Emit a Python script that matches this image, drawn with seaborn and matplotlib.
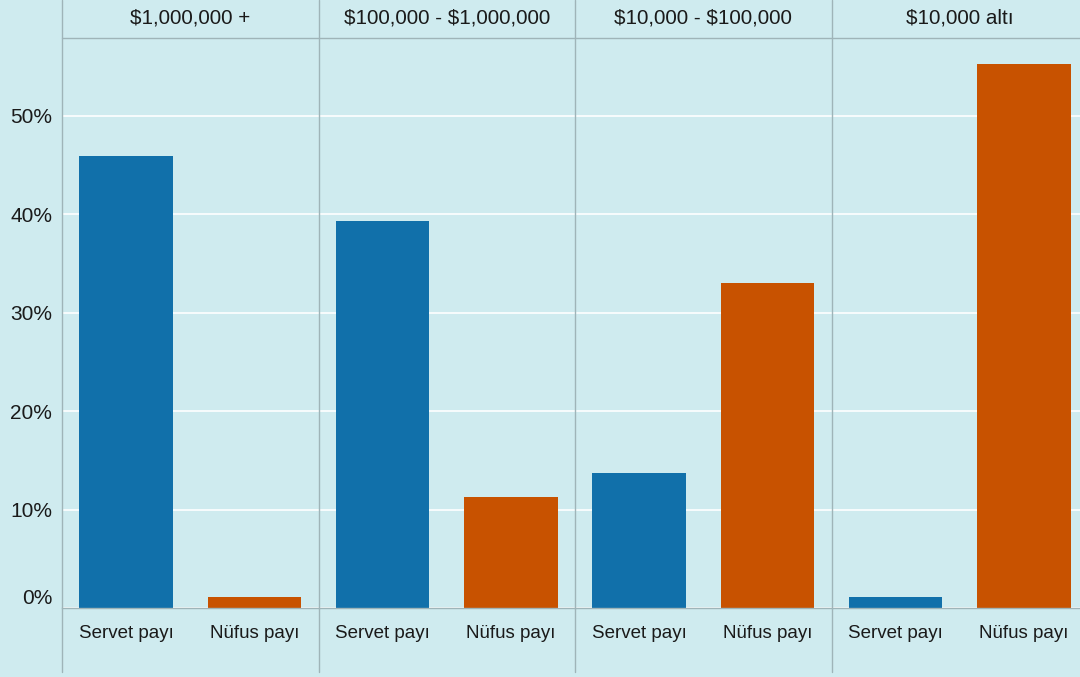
import matplotlib
matplotlib.use("Agg")
import matplotlib.pyplot as plt
from matplotlib.lines import Line2D
from matplotlib.ticker import PercentFormatter
import seaborn as sns
import pandas as pd

groups = ["$1,000,000 +", "$100,000 - $1,000,000", "$10,000 - $100,000", "$10,000 altı"]
measures = ["Servet payı", "Nüfus payı"]
servet = [45.9, 39.3, 13.7, 1.1]
nufus = [1.1, 11.3, 33.0, 55.3]

colors = {"Servet payı": "#1170aa", "Nüfus payı": "#c85200"}
bg = "#cfebef"
line_col = "#9fb4b8"

sns.set_theme(style="white")
plt.rcParams["font.family"] = ["Liberation Sans", "DejaVu Sans"]
plt.rcParams["text.parse_math"] = False

rows = []
for g, s, n in zip(groups, servet, nufus):
    rows.append({"grup": g, "olcu": "Servet payı", "pay": s})
    rows.append({"grup": g, "olcu": "Nüfus payı", "pay": n})
df = pd.DataFrame(rows)

fig = plt.figure(figsize=(10.8, 6.77), dpi=100, facecolor=bg)
W, H = 1080, 677
left0, pw = 62, 256.5
y0, y1 = 608, 38

for i, g in enumerate(groups):
    ax = fig.add_axes([(left0 + i * pw) / W, (H - y0) / H, pw / W, (y0 - y1) / H])
    ax.set_facecolor(bg)
    sub = df[df["grup"] == g]
    sns.barplot(data=sub, x="olcu", y="pay", hue="olcu", order=measures,
                palette=colors, width=0.73, legend=False, ax=ax,
                saturation=1, edgecolor="none")
    ax.set_ylim(0, 57.9)
    ax.set_xlim(-0.5, 1.5)
    ax.set_yticks([0, 10, 20, 30, 40, 50])
    ax.yaxis.set_major_formatter(PercentFormatter(decimals=0))
    ax.grid(axis="y", color="white", linewidth=1.2)
    ax.set_axisbelow(True)
    for sp in ["left", "right", "top"]:
        ax.spines[sp].set_visible(False)
    ax.spines["bottom"].set_color(line_col)
    ax.spines["bottom"].set_linewidth(1)
    ax.set_xlabel("")
    ax.set_ylabel("")
    ax.tick_params(axis="x", labelsize=13.5, colors="#1a1a1a", pad=12, length=0)
    ax.tick_params(axis="y", labelsize=15, colors="#1a1a1a", length=0, pad=7)
    if i > 0:
        ax.tick_params(axis="y", labelleft=False)
    else:
        ax.get_yticklabels()[0].set_va("bottom")
    ax.text(0.5, 1 + 20 / (y0 - y1), g, transform=ax.transAxes,
            ha="center", va="center", fontsize=14.9, color="#1a1a1a")

# strip border and panel separators
fig.add_artist(Line2D([left0 / W, 1], [(H - y1) / H] * 2, color=line_col, lw=1))
for i in range(4):
    x = (left0 + i * pw) / W
    fig.add_artist(Line2D([x, x], [(H - 672) / H, 1], color=line_col, lw=1))

fig.savefig("out.png", dpi=100, facecolor=bg)
